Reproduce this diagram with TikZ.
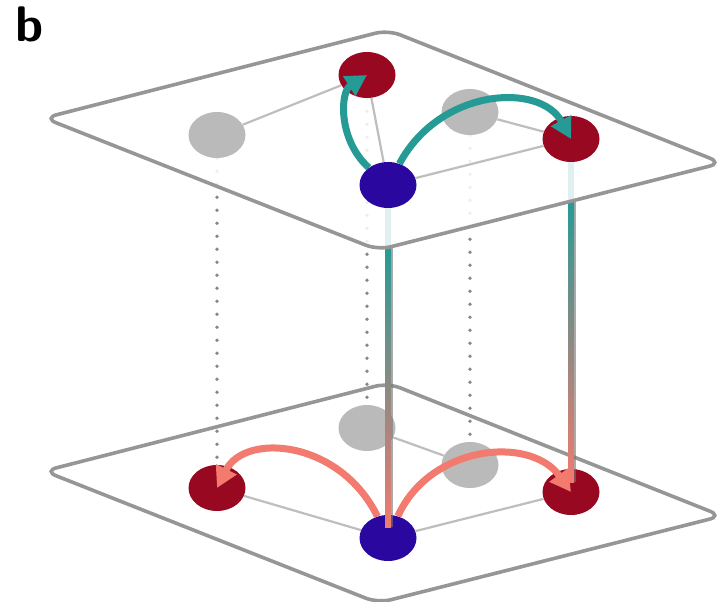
\documentclass[tikz,border=0pt]{standalone}
\usetikzlibrary{shapes.geometric, arrows.meta}
\definecolor{siteRed}{RGB}{152,8,32}
\definecolor{siteBlue}{RGB}{42,8,160}
\definecolor{siteGrey}{RGB}{186,186,186}
\definecolor{hopTeal}{RGB}{38,155,150}
\definecolor{hopPink}{RGB}{242,122,110}
\definecolor{planeGrey}{RGB}{150,150,150}
\definecolor{bondGrey}{RGB}{190,190,190}
\pgfdeclarelayer{front}
\pgfsetlayers{main,front}

\begin{document}
\begin{tikzpicture}[x=1pt, y=1pt,
	site/.style={ellipse, minimum width=57pt, minimum height=46pt, inner sep=0pt},
	redsite/.style={site, fill=siteRed},
	greysite/.style={site, fill=siteGrey},
	bluesite/.style={site, fill=siteBlue},
	plane/.style={draw=planeGrey, line width=3.6pt, rounded corners=13pt, fill=white},
	bond/.style={draw=bondGrey, line width=2.2pt},
	column/.style={draw=planeGrey!90!black, line width=3.8pt, dash pattern=on 0pt off 13pt, line cap=round},
	hop/.style={line width=7pt, -{Triangle[length=21pt, width=22pt]}},
	shadowline/.style={draw=black!55, line width=2.2pt, opacity=.6}]
	\useasboundingbox (0,0) rectangle (724,-602);
	\node[font=\sffamily\bfseries\fontsize{50}{50}\selectfont, inner sep=0pt] (panel) at (30,-24) {b};

	\draw[plane, yshift=-353pt] (216,-74) -- (388,-30) -- (722,-163) -- (378,-250) -- (44,-118) -- cycle;
	\node[redsite] (A2) at (217,-488) {};
	\node[greysite] (B2) at (367,-428) {};
	\node[greysite] (C2) at (470,-465) {};
	\node[redsite] (D2) at (571,-492) {};
	\node[bluesite] (E2) at (388,-538) {};
	\draw[bond] (A2) -- (E2);
	\draw[bond] (E2) -- (D2);
	\draw[bond] (B2) -- (C2);

	\begin{pgfonlayer}{front}
		\draw[plane, fill opacity=.86] (216,-74) -- (388,-30) -- (722,-163) -- (378,-250) -- (44,-118) -- cycle;
		\node[greysite] (A1) at (217,-135) {};
		\node[redsite] (B1) at (367,-75) {};
		\node[greysite] (C1) at (470,-112) {};
		\node[redsite] (D1) at (571,-139) {};
		\node[bluesite] (E1) at (388,-185) {};
		\draw[bond] (A1) -- (B1);
		\draw[bond] (B1) -- (E1);
		\draw[bond] (E1) -- (D1);
		\draw[bond] (C1) -- (D1);
		\draw[hop, hopTeal] (E1) .. controls (338,-140) and (340,-92) .. (B1.center);
		\draw[hop, hopTeal] (E1) .. controls (440,-88) and (540,-82) .. (D1.center);
	\end{pgfonlayer}

	\draw[column] (A1) -- (A2);
	\draw[column] (B1) -- (B2);
	\draw[column] (C1) -- (C2);

	\coordinate (Eedge) at (388,-248);
	\coordinate (Dedge) at (571,-201);
	\draw[hopTeal, line width=6pt] (E1) -- (Eedge);
	\draw[hopTeal, line width=6pt] (D1) -- (Dedge);
	\draw[shadowline] ([xshift=4pt]Eedge) -- ([xshift=4pt, yshift=11pt]E2.center);
	\draw[shadowline] ([xshift=4pt]Dedge) -- ([xshift=4pt, yshift=10pt]D2.center);
	\shade[top color=hopTeal, middle color=gray, bottom color=hopPink] ([xshift=-3pt]Eedge) rectangle ([xshift=3pt, yshift=11pt]E2.center);
	\shade[top color=hopTeal, middle color=gray, bottom color=hopPink] ([xshift=-3pt]Dedge) rectangle ([xshift=3pt, yshift=10pt]D2.center);

	\draw[hop, hopPink] (E2) .. controls (340,-440) and (245,-432) .. (A2.center);
	\draw[hop, hopPink] (E2) .. controls (430,-445) and (530,-435) .. (D2.center);
\end{tikzpicture}
\end{document}
